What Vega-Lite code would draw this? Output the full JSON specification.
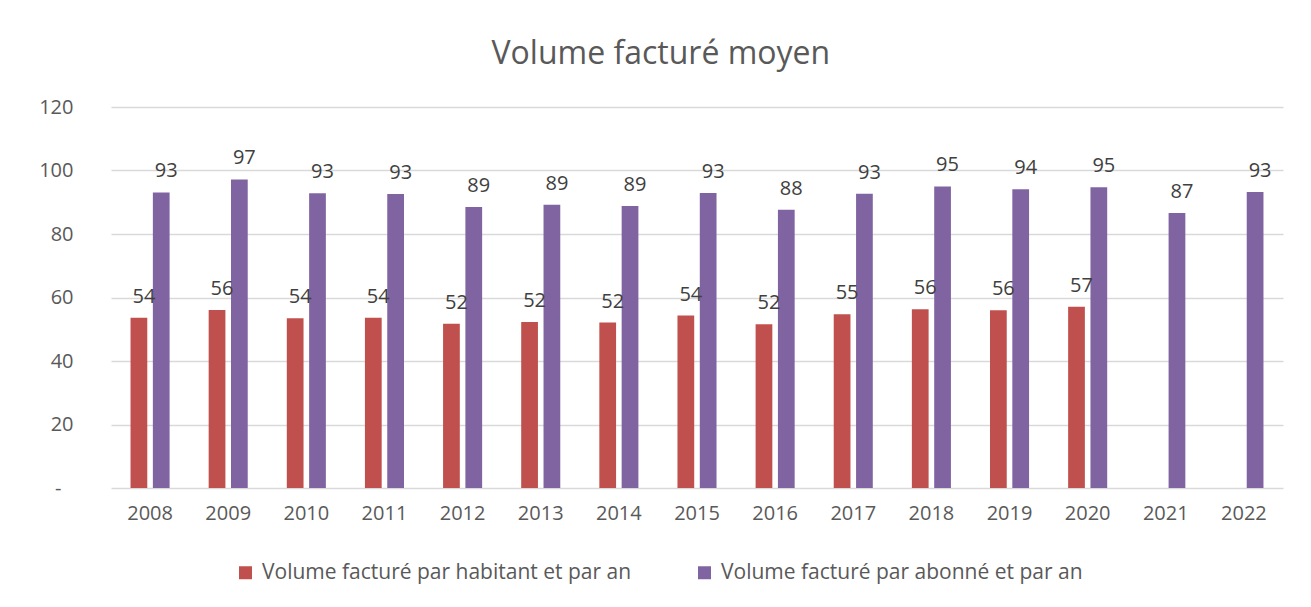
{
  "$schema": "https://vega.github.io/schema/vega-lite/v6.json",
  "width": 1172,
  "height": 381,
  "padding": {"left": 38, "top": 38, "right": 29, "bottom": 5},
  "background": "white",
  "title": {"text": "Volume facturé moyen", "font": "Open Sans", "fontSize": 32, "fontWeight": "normal", "color": "#595959", "anchor": "middle", "frame": "bounds", "offset": 26},
  "config": {
    "view": {"stroke": null},
    "font": "Open Sans",
    "axis": {"labelFont": "Open Sans", "labelFontSize": 20, "labelColor": "#595959", "ticks": false, "domain": false, "title": null},
    "legend": {"labelFont": "Open Sans", "labelFontSize": 21, "labelColor": "#595959"}
  },
  "data": {"values": [
    {"year": "2008", "series": "Volume facturé par habitant et par an", "value": 53.6},
    {"year": "2009", "series": "Volume facturé par habitant et par an", "value": 56.1},
    {"year": "2010", "series": "Volume facturé par habitant et par an", "value": 53.5},
    {"year": "2011", "series": "Volume facturé par habitant et par an", "value": 53.6},
    {"year": "2012", "series": "Volume facturé par habitant et par an", "value": 51.7},
    {"year": "2013", "series": "Volume facturé par habitant et par an", "value": 52.3},
    {"year": "2014", "series": "Volume facturé par habitant et par an", "value": 52.1},
    {"year": "2015", "series": "Volume facturé par habitant et par an", "value": 54.3},
    {"year": "2016", "series": "Volume facturé par habitant et par an", "value": 51.6},
    {"year": "2017", "series": "Volume facturé par habitant et par an", "value": 54.7},
    {"year": "2018", "series": "Volume facturé par habitant et par an", "value": 56.3},
    {"year": "2019", "series": "Volume facturé par habitant et par an", "value": 56.0},
    {"year": "2020", "series": "Volume facturé par habitant et par an", "value": 57.1},
    {"year": "2021", "series": "Volume facturé par habitant et par an", "value": null},
    {"year": "2022", "series": "Volume facturé par habitant et par an", "value": null},
    {"year": "2008", "series": "Volume facturé par abonné et par an", "value": 93.1},
    {"year": "2009", "series": "Volume facturé par abonné et par an", "value": 97.2},
    {"year": "2010", "series": "Volume facturé par abonné et par an", "value": 92.8},
    {"year": "2011", "series": "Volume facturé par abonné et par an", "value": 92.6},
    {"year": "2012", "series": "Volume facturé par abonné et par an", "value": 88.5},
    {"year": "2013", "series": "Volume facturé par abonné et par an", "value": 89.2},
    {"year": "2014", "series": "Volume facturé par abonné et par an", "value": 88.8},
    {"year": "2015", "series": "Volume facturé par abonné et par an", "value": 92.9},
    {"year": "2016", "series": "Volume facturé par abonné et par an", "value": 87.6},
    {"year": "2017", "series": "Volume facturé par abonné et par an", "value": 92.7},
    {"year": "2018", "series": "Volume facturé par abonné et par an", "value": 95.0},
    {"year": "2019", "series": "Volume facturé par abonné et par an", "value": 94.1},
    {"year": "2020", "series": "Volume facturé par abonné et par an", "value": 94.7},
    {"year": "2021", "series": "Volume facturé par abonné et par an", "value": 86.6},
    {"year": "2022", "series": "Volume facturé par abonné et par an", "value": 93.2}
  ]},
  "encoding": {
    "x": {"field": "year", "type": "ordinal", "scale": {"paddingInner": 0.5, "paddingOuter": 0.25},
          "axis": {"labelAngle": 0, "labelPadding": 15, "grid": false}},
    "xOffset": {"field": "series", "type": "nominal", "sort": ["Volume facturé par habitant et par an", "Volume facturé par abonné et par an"], "scale": {"paddingInner": 0.25, "paddingOuter": 0}},
    "y": {"field": "value", "type": "quantitative", "scale": {"domain": [0, 120]},
          "axis": {"values": [0, 20, 40, 60, 80, 100, 120], "grid": true, "gridColor": "#d9d9d9", "gridWidth": 1.5,
                   "labelPadding": {"condition": {"test": "datum.value == 0", "value": 50}, "value": 38},
                   "labelExpr": "datum.value == 0 ? '-' : datum.label"}}
  },
  "layer": [
    {
      "mark": {"type": "bar"},
      "encoding": {
        "color": {"field": "series", "type": "nominal", "sort": ["Volume facturé par habitant et par an", "Volume facturé par abonné et par an"],
                  "scale": {"domain": ["Volume facturé par habitant et par an", "Volume facturé par abonné et par an"], "range": ["#C0504D", "#8064A2"]},
                  "legend": {"orient": "none", "legendX": 124, "legendY": 455, "direction": "horizontal", "title": null, "symbolType": "square", "symbolSize": 169, "symbolStrokeWidth": 0, "symbolOpacity": 1, "labelOffset": 6, "columnPadding": 62, "labelLimit": 500}}
      }
    },
    {
      "mark": {"type": "text", "baseline": "alphabetic", "dy": -15, "dx": 5, "fontSize": 20, "color": "#404040", "font": "Open Sans"},
      "encoding": {"text": {"field": "value", "type": "quantitative", "format": ".0f"}}
    }
  ]
}
